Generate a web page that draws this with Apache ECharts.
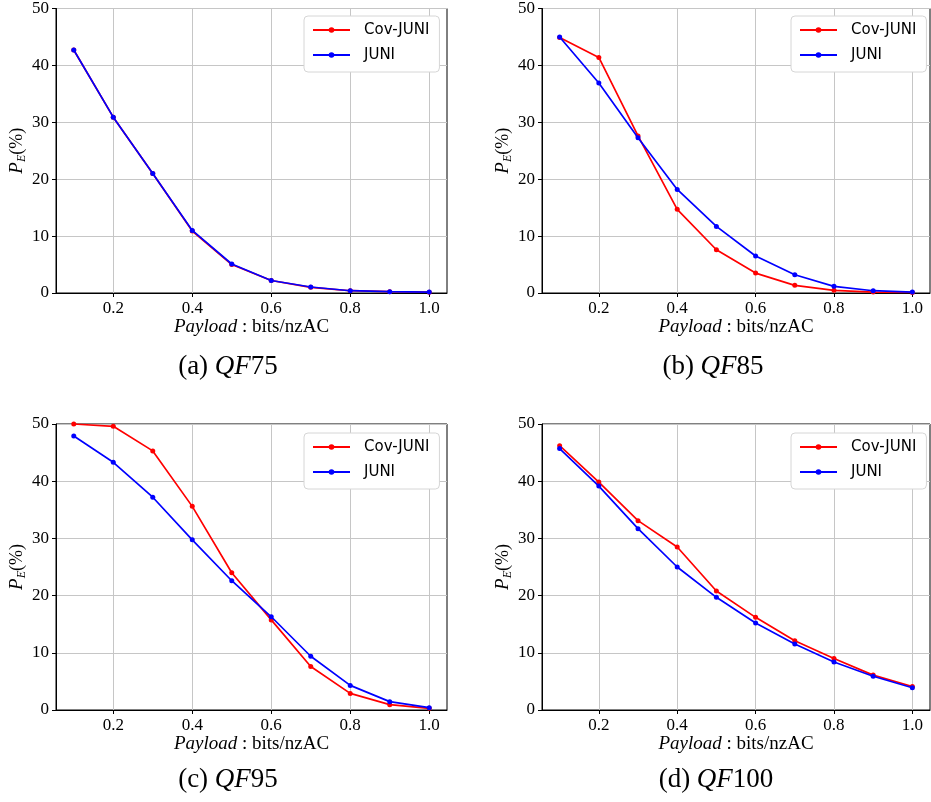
<!DOCTYPE html>
<html><head><meta charset="utf-8">
<script src="https://cdn.jsdelivr.net/npm/echarts@6/dist/echarts.min.js"></script>
<style>html,body{margin:0;padding:0;background:#fff}#c{width:931px;height:802px}</style>
</head><body><div id="c"></div>
<script>
// ---- data ----
const payload = [0.1, 0.2, 0.3, 0.4, 0.5, 0.6, 0.7, 0.8, 0.9, 1.0];
const xTicks = [0.2, 0.4, 0.6, 0.8, 1.0];
const seriesNames = ['Cov-JUNI', 'JUNI'];

const qf75Cov  = [42.7, 30.9, 21.0, 10.9, 5.0, 2.2, 1.0, 0.4, 0.23, 0.15];
const qf75Juni = [42.7, 30.9, 21.0, 11.0, 5.1, 2.2, 1.05, 0.4, 0.23, 0.17];

const qf85Cov  = [44.9, 41.4, 27.6, 14.7, 7.6, 3.5, 1.35, 0.47, 0.17, 0.1];
const qf85Juni = [45.0, 36.9, 27.3, 18.2, 11.7, 6.5, 3.2, 1.17, 0.4, 0.17];

const qf95Cov  = [50.0, 49.6, 45.3, 35.6, 24.0, 15.75, 7.6, 2.9, 0.93, 0.3];
const qf95Juni = [47.9, 43.3, 37.2, 29.75, 22.6, 16.3, 9.4, 4.3, 1.46, 0.4];

const qf100Cov  = [46.2, 39.85, 33.1, 28.5, 20.8, 16.2, 12.1, 9.0, 6.1, 4.1];
const qf100Juni = [45.7, 39.15, 31.7, 25.0, 19.7, 15.2, 11.55, 8.4, 5.9, 3.9];

const captionLetters = ['(a) ', '(b) ', '(c) ', '(d) '];
const captionQF = ['75', '85', '95', '100'];

const panels = [
  [qf75Cov, qf75Juni],
  [qf85Cov, qf85Juni],
  [qf95Cov, qf95Juni],
  [qf100Cov, qf100Juni]
];

// ---- layout ----
const grids = [
  {left: 56,  top: 7,   width: 391, height: 286},
  {left: 542, top: 7,   width: 388, height: 286},
  {left: 56,  top: 424, width: 391, height: 286},
  {left: 542, top: 424, width: 388, height: 286}
];
const legendPos = [[304, 16], [791, 16], [304, 433], [791, 433]];
const captionPos = [[228, 353], [713, 353], [228, 766], [716, 766]];
const colors = ['#ff0000', '#0000ff'];
const serif = 'Liberation Serif';

const option = {
  animation: false,
  backgroundColor: '#fff',
  grid: grids.map(g => Object.assign({show: true, borderColor: '#000', borderWidth: 1, backgroundColor: 'transparent'}, g)),
  xAxis: grids.map((g, i) => ({
    type: 'value', gridIndex: i, min: 0.055, max: 1.045,
    axisLine: {show: true, lineStyle: {color: '#000', width: 1}},
    axisTick: {show: true, length: 4, customValues: xTicks, lineStyle: {color: '#000'}},
    axisLabel: {customValues: xTicks, formatter: v => v.toFixed(1), color: '#000', fontFamily: serif, fontSize: 17, margin: 7},
    splitLine: {show: true, lineStyle: {color: '#c6c6c6', width: 1}},
    name: '{i|Payload} : bits/nzAC',
    nameLocation: 'middle', nameGap: 22,
    nameTextStyle: {color: '#000', fontFamily: serif, fontSize: 19,
      rich: {i: {fontStyle: 'italic', fontFamily: serif, fontSize: 19, color: '#000'}}}
  })),
  yAxis: grids.map((g, i) => ({
    type: 'value', gridIndex: i, min: 0, max: 50, interval: 10,
    axisLine: {show: true, lineStyle: {color: '#000', width: 1}},
    axisTick: {show: true, length: 4, lineStyle: {color: '#000'}},
    axisLabel: {color: '#000', fontFamily: serif, fontSize: 17, margin: 7},
    splitLine: {show: true, lineStyle: {color: '#c6c6c6', width: 1}},
    name: '{p|P}{s|E}{n|(%)}',
    nameLocation: 'middle', nameGap: 26,
    nameTextStyle: {color: '#000', fontFamily: serif, fontSize: 18,
      rich: {
        p: {fontStyle: 'italic', fontFamily: serif, fontSize: 19, lineHeight: 22, verticalAlign: 'middle', color: '#000'},
        s: {fontStyle: 'italic', fontFamily: serif, fontSize: 12, lineHeight: 12, verticalAlign: 'bottom', color: '#000'},
        n: {fontFamily: serif, fontSize: 18, lineHeight: 22, verticalAlign: 'middle', color: '#000'}
      }}
  })),
  legend: legendPos.map((p, i) => ({
    data: seriesNames, orient: 'vertical', left: p[0], top: p[1],
    itemWidth: 37, itemHeight: 7, itemGap: 7,
    padding: [5, 10, 8, 8],
    backgroundColor: '#fff', borderColor: '#d6d6d6', borderWidth: 1, borderRadius: 4,
    textStyle: {fontFamily: 'DejaVu Sans', fontSize: 15, lineHeight: 18, color: '#000', padding: [0, 0, 0, 9]},
    selectedMode: false
  })),
  graphic: captionPos.map((p, i) => ({
    type: 'text', x: p[0], y: p[1],
    style: {
      text: '{n|' + captionLetters[i] + '}{i|QF}{n|' + captionQF[i] + '}',
      align: 'center', verticalAlign: 'top',
      rich: {
        n: {fontFamily: serif, fontSize: 27, fill: '#000'},
        i: {fontFamily: serif, fontSize: 27, fontStyle: 'italic', fill: '#000'}
      }
    }
  })),
  series: []
};

panels.forEach((pair, gi) => {
  pair.forEach((vals, si) => {
    option.series.push({
      type: 'line', name: seriesNames[si], xAxisIndex: gi, yAxisIndex: gi,
      data: payload.map((x, k) => [x, vals[k]]),
      symbol: 'circle', symbolSize: 5, showSymbol: true,
      color: colors[si],
      lineStyle: {width: 1.7, color: colors[si]},
      itemStyle: {color: colors[si]},
      z: 2 + si
    });
  });
});

const chart = echarts.init(document.getElementById('c'), null, {renderer: 'canvas'});
chart.setOption(option);
</script>
</body></html>
